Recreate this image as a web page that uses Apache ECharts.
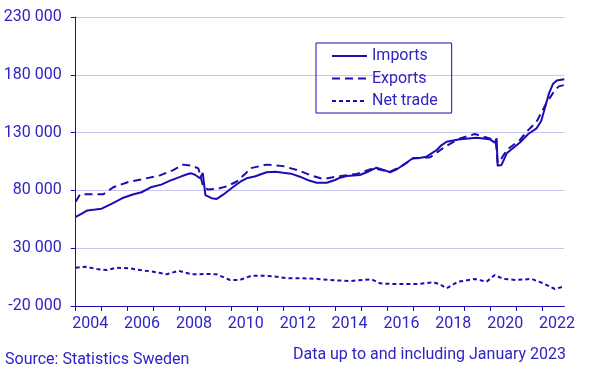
<!DOCTYPE html>
<html>
<head>
<meta charset="utf-8">
<script src="https://cdn.jsdelivr.net/npm/echarts@6/dist/echarts.min.js"></script>
<style>
html,body{margin:0;padding:0;background:#fff;}
#c{width:589px;height:374px;}
</style>
</head>
<body>
<div id="c"></div>
<script>
// Imports (time in decimal years, value)
const importsYear  = [2004.0,2004.2,2004.45,2004.75,2005.0,2005.4,2005.84,2006.2,2006.54,2006.93,2007.3,2007.64,2008.0,2008.21,2008.43,2008.6,2008.79,2008.86,2008.9,2009.0,2009.24,2009.44,2009.7,2010.08,2010.35,2010.59,2010.9,2011.36,2011.7,2012.0,2012.3,2012.65,2013.0,2013.29,2013.68,2014.0,2014.19,2014.45,2014.96,2015.22,2015.6,2015.9,2016.12,2016.4,2016.63,2017.01,2017.3,2017.53,2017.92,2018.1,2018.3,2018.82,2019.46,2019.97,2020.16,2020.23,2020.27,2020.42,2020.62,2021.13,2021.45,2021.77,2021.95,2022.1,2022.25,2022.4,2022.55,2022.84];
const importsValue = [57000,59500,62700,63500,64200,68500,73700,76500,78400,83000,85000,88400,91500,93300,94900,93500,90500,91000,95000,76000,73300,72600,76500,83200,87500,90500,92000,95700,96200,95300,94500,91850,88500,86660,86660,89000,91000,92500,93300,95660,99650,97500,95700,98500,102000,108000,108200,109200,114950,119000,122100,124200,125600,124200,121300,125000,101400,102000,112100,121500,128800,133700,140000,152000,164000,172000,175000,176200];

// Exports
const exportsYear  = [2004.0,2004.17,2004.6,2005.06,2005.45,2006.03,2006.54,2007.25,2007.76,2008.15,2008.47,2008.73,2008.92,2009.11,2009.5,2009.82,2010.2,2010.59,2010.72,2011.36,2012.0,2012.65,2013.1,2013.55,2014.06,2014.83,2015.47,2016.12,2016.5,2017.01,2017.66,2018.28,2018.82,2019.39,2019.97,2020.2,2020.27,2020.4,2020.62,2021.13,2021.39,2021.77,2022.16,2022.48,2022.63,2022.84];
const exportsValue = [70200,76600,76600,76600,82700,87300,89600,93000,97600,102300,101400,99000,83200,80700,81500,83500,87500,95500,99100,102300,101000,96800,92700,89900,91850,94200,99100,96200,100000,107500,108600,118400,124900,128800,124900,121500,104000,107000,114950,123600,130800,139400,156000,166850,170000,171200];

// Net trade
const netYear  = [2004.0,2004.36,2004.81,2005.2,2005.58,2006.1,2006.48,2006.99,2007.51,2007.96,2008.47,2009.05,2009.44,2009.95,2010.33,2010.78,2011.23,2011.75,2012.13,2012.77,2013.35,2013.8,2014.57,2015.4,2015.73,2016.24,2017.15,2017.79,2018.04,2018.3,2018.75,2019.39,2019.84,2020.16,2020.48,2021.0,2021.58,2022.03,2022.48,2022.84];
const netValue = [13100,14000,12000,11100,13100,12600,11100,9700,7400,10500,7400,7700,7400,2500,2500,6200,6200,5300,4000,4000,3400,2500,1600,3100,-400,-1000,-1000,500,-1200,-4700,1000,3400,1000,6800,3400,2500,3400,-400,-5300,-3000];

const yTicks = [-20000, 30000, 80000, 130000, 180000, 230000];
const seriesNames = ['Imports', 'Exports', 'Net trade'];

const LINE = '#1B0DB1';
const TEXT = '#2F23C3';
const GRID = '#C9C5F0';
const FONT = 'Roboto';

function pairs(xs, ys){ return xs.map((x,i)=>[x, ys[i]]); }
function fmtNum(v){
  const s = Math.abs(v).toString().replace(/\B(?=(\d{3})+(?!\d))/g, ' ');
  return (v < 0 ? '-' : '') + s;
}

const chart = echarts.init(document.getElementById('c'), null, {renderer:'canvas'});
chart.setOption({
  animation: false,
  backgroundColor: '#fff',
  textStyle: {fontFamily: FONT},
  title: [
    {text: 'Source: Statistics Sweden', left: 5, top: 352, padding: 0,
     textStyle: {color: TEXT, fontSize: 16, fontWeight: 'normal', fontFamily: FONT}},
    {text: 'Data up to and including January 2023', right: 23, top: 347, padding: 0,
     textStyle: {color: TEXT, fontSize: 16, fontWeight: 'normal', fontFamily: FONT}}
  ],
  legend: {
    data: seriesNames,
    orient: 'vertical',
    left: 316, top: 43,
    padding: [5, 14, 4, 15],
    itemWidth: 35, itemHeight: 14, itemGap: 6.5,
    borderColor: LINE, borderWidth: 1, borderRadius: 0,
    itemStyle: {opacity: 0},
    textStyle: {color: TEXT, fontSize: 16, lineHeight: 16, fontFamily: FONT}
  },
  grid: {left: 75.7, right: 24.7, top: 17, bottom: 68, containLabel: false},
  xAxis: {
    type: 'value', min: 2004, max: 2022.84, interval: 1,
    axisLine: {show: true, onZero: false, lineStyle: {color: LINE, width: 1}},
    axisTick: {show: true, length: 5, lineStyle: {color: LINE}},
    splitLine: {show: false},
    axisLabel: {
      color: TEXT, fontSize: 16, fontFamily: FONT, margin: 10,
      padding: [0, 0, 0, 29], showMaxLabel: false,
      formatter: function(v){
        const r = Math.round(v);
        return (Math.abs(v - r) < 1e-6 && r % 2 === 0 && r < 2023) ? String(r) : '';
      }
    }
  },
  yAxis: {
    type: 'value', min: yTicks[0], max: yTicks[yTicks.length-1], interval: 50000,
    axisLine: {show: true, onZero: false, lineStyle: {color: LINE, width: 1}},
    axisTick: {show: true, length: 5, lineStyle: {color: LINE}},
    splitLine: {show: true, lineStyle: {color: GRID, width: 1}},
    axisLabel: {color: TEXT, fontSize: 16, fontFamily: FONT, margin: 14, formatter: fmtNum}
  },
  series: [
    {name: seriesNames[0], type: 'line', data: pairs(importsYear, importsValue), symbol: 'none',
     lineStyle: {color: LINE, width: 2, type: 'solid'}, itemStyle: {color: LINE}},
    {name: seriesNames[1], type: 'line', data: pairs(exportsYear, exportsValue), symbol: 'none',
     lineStyle: {color: LINE, width: 2, type: [8, 5]}, itemStyle: {color: LINE}},
    {name: seriesNames[2], type: 'line', data: pairs(netYear, netValue), symbol: 'none',
     lineStyle: {color: LINE, width: 2, type: [4, 3]}, itemStyle: {color: LINE}}
  ]
});
</script>
</body>
</html>
